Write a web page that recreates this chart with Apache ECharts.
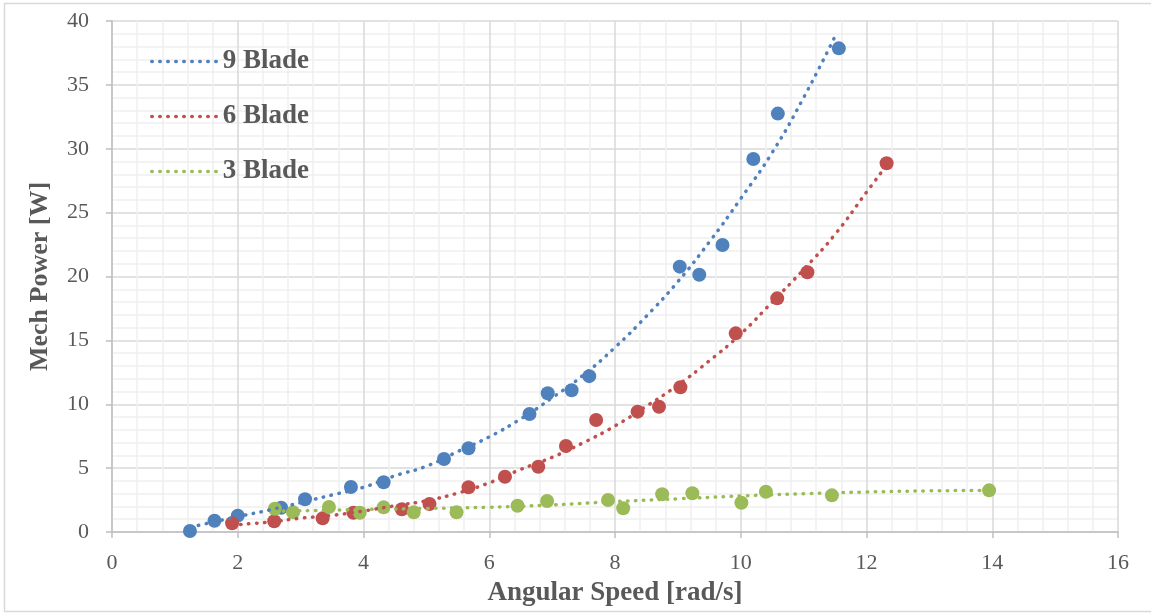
<!DOCTYPE html>
<html>
<head>
<meta charset="utf-8">
<title>Mech Power vs Angular Speed</title>
<script src="https://cdn.jsdelivr.net/npm/echarts@6/dist/echarts.min.js"></script>
<style>
  html, body { margin: 0; padding: 0; background: #fff; }
  #chart { width: 1151px; height: 613px; }
</style>
</head>
<body>
<div id="chart"></div>
<script>
// measured points (angular speed rad/s, mech power W)
var speed9 = [1.24, 1.63, 2.0, 2.69, 3.07, 3.80, 4.32, 5.28, 5.67, 6.64, 6.93, 7.31, 7.59, 9.03, 9.34, 9.71, 10.2, 10.59, 11.56];
var power9 = [0.08, 0.88, 1.28, 1.9, 2.56, 3.52, 3.89, 5.71, 6.55, 9.24, 10.86, 11.1, 12.2, 20.77, 20.14, 22.46, 29.2, 32.75, 37.86];

var speed6 = [1.91, 2.58, 3.35, 3.84, 4.61, 5.05, 5.67, 6.25, 6.78, 7.22, 7.70, 8.36, 8.70, 9.04, 9.92, 10.58, 11.06, 12.32];
var power6 = [0.68, 0.84, 1.07, 1.51, 1.78, 2.19, 3.5, 4.33, 5.11, 6.73, 8.77, 9.42, 9.81, 11.33, 15.55, 18.29, 20.33, 28.86];

var speed3 = [2.59, 2.88, 3.45, 3.94, 4.32, 4.80, 5.48, 6.45, 6.92, 7.89, 8.13, 8.75, 9.23, 10.01, 10.40, 11.45, 13.95];
var power3 = [1.82, 1.54, 1.96, 1.51, 1.93, 1.54, 1.54, 2.06, 2.43, 2.50, 1.86, 2.95, 3.03, 2.29, 3.15, 2.87, 3.26];

// trendlines
var trendX9 = [1.25, 1.5, 2.0, 2.5, 3.0, 3.5, 4.0, 4.5, 5.0, 5.5, 6.0, 6.5, 7.0, 7.5, 8.0, 8.5, 9.0, 9.5, 10.0, 10.5, 11.0, 11.5];
var trendY9 = [0.37, 0.66, 1.2, 1.72, 2.3, 2.9, 3.5, 4.4, 5.15, 6.3, 7.45, 8.85, 10.5, 12.3, 14.45, 16.9, 19.6, 22.7, 26.1, 29.7, 34.0, 38.8];

var trendX6 = [1.92, 2.5, 3.0, 3.5, 4.0, 4.5, 5.0, 5.5, 6.0, 6.5, 7.0, 7.5, 8.0, 8.5, 9.0, 9.5, 10.0, 10.5, 11.0, 11.5, 12.0, 12.32];
var trendY6 = [0.55, 0.78, 1.08, 1.3, 1.65, 2.05, 2.45, 3.05, 3.85, 4.9, 5.85, 7.0, 8.3, 9.85, 11.5, 13.4, 15.5, 18.0, 20.55, 23.3, 26.6, 28.7];

var trendX3 = [2.6, 4.0, 5.0, 6.0, 7.0, 8.0, 9.0, 10.0, 11.0, 12.0, 13.0, 13.95];
var trendY3 = [1.62, 1.76, 1.84, 1.94, 2.12, 2.38, 2.6, 2.82, 3.0, 3.13, 3.22, 3.26];

var names = ['9 Blade', '6 Blade', '3 Blade'];
var colors = ['#4f81bd', '#c0504d', '#9bbb59'];

function pairs(xs, ys) {
	var out = [];
	xs.forEach(function(x, i) {
		out.push([x, ys[i]]);
	});
	return out;
}

var dotDash = [0.5, 7.5];

function trend(name, xs, ys, color) {
	return {
		name: name,
		type: 'line',
		data: pairs(xs, ys),
		smooth: true,
		symbol: 'none',
		showSymbol: false,
		z: 3,
		color: color,
		lineStyle: { color: color, width: 3.5, type: dotDash, cap: 'round' }
	};
}

function points(xs, ys, color) {
	return {
		type: 'scatter',
		data: pairs(xs, ys),
		symbolSize: 14,
		z: 2,
		itemStyle: { color: color, opacity: 1 }
	};
}

var labelFont = 'Liberation Serif';
var gray = '#595959';

var myChart = echarts.init(document.getElementById('chart'));

var option = {
	animation: false,
	backgroundColor: '#fff',
	grid: { left: 112, right: 33, top: 21, bottom: 81, containLabel: false },
	legend: {
		data: names,
		orient: 'vertical',
		left: 145,
		top: 43,
		itemWidth: 66,
		itemHeight: 28,
		itemGap: 28,
		itemStyle: { opacity: 0 },
		lineStyle: { width: 3.5, type: dotDash, cap: 'round' },
		textStyle: { fontFamily: labelFont, fontWeight: 'bold', fontSize: 27, color: gray }
	},
	xAxis: {
		type: 'value',
		min: 0,
		max: 16,
		interval: 2,
		name: 'Angular Speed [rad/s]',
		nameLocation: 'middle',
		nameGap: 48,
		nameTextStyle: { fontFamily: labelFont, fontWeight: 'bold', fontSize: 27, color: gray },
		axisLine: { show: true, lineStyle: { color: '#bfbfbf', width: 1.5 } },
		axisTick: { show: true, length: 6, lineStyle: { color: '#bfbfbf', width: 1.5 } },
		axisLabel: { fontFamily: labelFont, fontSize: 22, color: gray, margin: 20 },
		splitLine: { show: true, lineStyle: { color: '#d9d9d9', width: 1.5 } },
		minorTick: { show: false, splitNumber: 5 },
		minorSplitLine: { show: true, lineStyle: { color: '#f0f0f0', width: 1.5 } }
	},
	yAxis: {
		type: 'value',
		min: 0,
		max: 40,
		interval: 5,
		name: 'Mech Power [W]',
		nameLocation: 'middle',
		nameGap: 59,
		nameTextStyle: { fontFamily: labelFont, fontWeight: 'bold', fontSize: 26, color: gray },
		axisLine: { show: true, lineStyle: { color: '#bfbfbf', width: 1.5 } },
		axisTick: { show: true, length: 6, lineStyle: { color: '#bfbfbf', width: 1.5 } },
		axisLabel: { fontFamily: labelFont, fontSize: 22, color: gray, margin: 23 },
		splitLine: { show: true, lineStyle: { color: '#d9d9d9', width: 1.5 } },
		minorTick: { show: false, splitNumber: 5 },
		minorSplitLine: { show: true, lineStyle: { color: '#f0f0f0', width: 1.5 } }
	},
	graphic: [{
		type: 'rect',
		shape: { x: 4.5, y: 3.5, width: 1150, height: 608 },
		style: { fill: 'none', stroke: '#d9d9d9', lineWidth: 1.5 },
		silent: true
	}],
	series: [
		points(speed9, power9, colors[0]),
		points(speed6, power6, colors[1]),
		points(speed3, power3, colors[2]),
		trend(names[0], trendX9, trendY9, colors[0]),
		trend(names[1], trendX6, trendY6, colors[1]),
		trend(names[2], trendX3, trendY3, colors[2])
	]
};

myChart.setOption(option, true);
</script>
</body>
</html>
